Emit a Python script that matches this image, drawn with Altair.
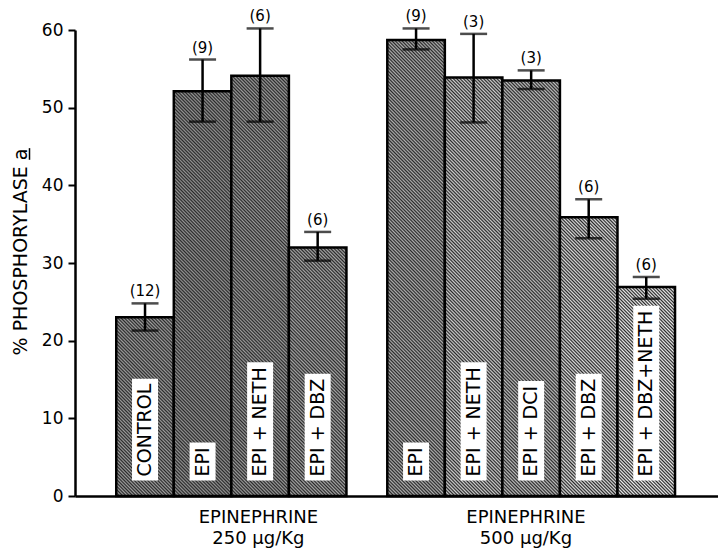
import altair as alt
import pandas as pd

# ---------------- data ----------------
group_titles = ["EPINEPHRINE\n250 µg/Kg", "EPINEPHRINE\n500 µg/Kg"]
bar_group = [0, 0, 0, 0, 1, 1, 1, 1, 1]
bar_index = [0, 1, 2, 3, 0, 1, 2, 3, 4]
treatments = ["CONTROL", "EPI", "EPI + NETH", "EPI + DBZ",
              "EPI", "EPI + NETH", "EPI + DCI", "EPI + DBZ", "EPI + DBZ+NETH"]
means = [23.0, 52.1, 54.1, 32.0, 58.7, 53.9, 53.5, 35.9, 26.9]
err_low = [21.3, 48.2, 48.2, 30.3, 57.5, 48.1, 52.4, 33.2, 25.4]
err_high = [24.8, 56.2, 60.2, 34.0, 60.2, 59.5, 54.8, 38.2, 28.2]
n_obs = [12, 9, 6, 6, 9, 3, 3, 6, 6]

y_ticks = [0, 10, 20, 30, 40, 50, 60]
y_title = "% PHOSPHORYLASE a"

# ---------------- layout / style ----------------
W, H = 643, 466
X_MAX = 11.0
group_start = [0.63, 5.34]       # left edge of each group, in bar-width units
label_center = [3.10, 7.75]      # centre of each group caption
shades = [99, 94, 98, 104, 108, 124, 116, 131, 140]   # mean grey level of each hatched bar
DARK = 40
HATCH_PERIOD = 3.4               # px, horizontal period of the diagonal hatching
FONT = "DejaVu Sans"
LBL_SIZE = 19
BOX_BASE = 2.0  # data units, bottom of the white label boxes
PX_PER_UNIT = H / 60.0
BAR_W = W / X_MAX

# DejaVu Sans advance widths (em)
cw = {"C": .698, "O": .787, "N": .748, "T": .611, "R": .695, "L": .557,
      "E": .632, "P": .603, "I": .295, " ": .318, "+": .838, "D": .770,
      "B": .686, "Z": .685, "H": .752, "%": .950, "S": .635, "Y": .611,
      "A": .684, "a": .613}


def text_px(s, size):
    return sum(cw.get(c, .6) for c in s) * size


def grey(v):
    v = max(0, min(255, int(round(v))))
    return "#{0:02x}{0:02x}{0:02x}".format(v)


def hatch(mean_val, shade):
    """Diagonal '\\' hatching as a bounding-box linear gradient."""
    w = BAR_W
    h = mean_val * PX_PER_UNIT
    s = h * (w + h) / (w * w + h * h)
    n = max(1, int(round((w + h) / HATCH_PERIOD)))
    light = grey(2 * shade - DARK)
    dark = grey(DARK)
    stops = []
    for k in range(2 * n + 1):
        stops.append(alt.GradientStop(color=dark if k % 2 == 0 else light,
                                      offset=k / (2 * n)))
    return alt.LinearGradient(gradient="linear", stops=stops,
                              x1=0, y1=1, x2=s * w / h, y2=1 - s)


ids = [f"b{i}" for i in range(len(means))]
df = pd.DataFrame({
    "id": ids,
    "treatment": treatments,
    "mean": means,
    "lo": err_low,
    "hi": err_high,
    "n": [f"({n})" for n in n_obs],
})
df["x0"] = [group_start[g] + i for g, i in zip(bar_group, bar_index)]
df["x1"] = df["x0"] + 1
df["xc"] = df["x0"] + 0.5
df["base"] = 0.0
df["ty"] = BOX_BASE + 4 / PX_PER_UNIT
df["by0"] = BOX_BASE
df["by1"] = [BOX_BASE + (text_px(t, LBL_SIZE) + 9) / PX_PER_UNIT for t in treatments]

gdf = pd.DataFrame({"title": group_titles, "xc": label_center})

xs = alt.Scale(domain=[0, X_MAX], nice=False, zero=False)
ys = alt.Scale(domain=[0, 60], nice=False)

base = alt.Chart(df)

x_axis = alt.Axis(labels=False, ticks=False, title=None, grid=False,
                  domainColor="black", domainWidth=2.5)
y_axis = alt.Axis(values=y_ticks, tickSize=7, tickWidth=2, tickColor="black",
                  domainColor="black", domainWidth=2.5, grid=False, title=None,
                  labelFont=FONT, labelFontSize=17, labelColor="black",
                  labelPadding=5)

bar_layers = []
for i, bid in enumerate(ids):
    bar_layers.append(
        base.transform_filter(alt.datum.id == bid).mark_rect(
            fill=hatch(means[i], shades[i]), stroke="black", strokeWidth=2.5
        ).encode(
            x=alt.X("x0:Q", scale=xs, axis=x_axis),
            x2="x1:Q",
            y=alt.Y("mean:Q", scale=ys, axis=y_axis),
            y2="base:Q",
        )
    )

boxes = base.mark_bar(color="white", size=26).encode(
    x=alt.X("xc:Q", scale=xs), y=alt.Y("by0:Q", scale=ys), y2="by1:Q"
)

labels = base.mark_text(angle=270, align="left", baseline="middle",
                        font=FONT, fontSize=LBL_SIZE, color="black").encode(
    x=alt.X("xc:Q", scale=xs), y=alt.Y("ty:Q", scale=ys), text="treatment:N"
)

err = base.mark_rule(color="black", strokeWidth=2.5).encode(
    x=alt.X("xc:Q", scale=xs), y=alt.Y("lo:Q", scale=ys), y2="hi:Q"
)
cap_lo = base.mark_tick(orient="horizontal", size=27, thickness=2.5, color="black").encode(
    x=alt.X("xc:Q", scale=xs), y=alt.Y("lo:Q", scale=ys)
)
cap_hi = base.mark_tick(orient="horizontal", size=27, thickness=2.5, color="black").encode(
    x=alt.X("xc:Q", scale=xs), y=alt.Y("hi:Q", scale=ys)
)
nlab = base.mark_text(baseline="bottom", dy=-4, font=FONT, fontSize=15, color="black").encode(
    x=alt.X("xc:Q", scale=xs), y=alt.Y("hi:Q", scale=ys), text="n:N"
)

glab = alt.Chart(gdf).mark_text(baseline="top", align="center", lineBreak="\n",
                                lineHeight=21, font=FONT, fontSize=18, color="black").encode(
    x=alt.X("xc:Q", scale=xs), y=alt.value(H + 13), text="title:N"
)

# y-axis title with underlined "a"
TITLE_SIZE = 19
title_center = 222
title_len = text_px(y_title, TITLE_SIZE)
a_top = title_center - title_len / 2
a_bot = a_top + cw["a"] * TITLE_SIZE
one = pd.DataFrame({"k": [0]})
ytitle = alt.Chart(one).mark_text(angle=270, align="center", baseline="middle",
                                  font=FONT, fontSize=TITLE_SIZE, color="black").encode(
    x=alt.value(-54), y=alt.value(title_center), text=alt.value(y_title)
)
uline = alt.Chart(one).mark_rule(color="black", strokeWidth=1.5).encode(
    x=alt.value(-45.5), y=alt.value(a_top), y2=alt.value(a_bot)
)

chart = alt.layer(*bar_layers, err, cap_lo, boxes, labels, cap_hi, nlab, glab, ytitle, uline).properties(
    width=W, height=H,
    autosize=alt.AutoSizeParams(type="none"),
    padding={"left": 67, "top": 22, "right": 0, "bottom": 52},
).configure_view(stroke=None)

chart.save("out.html", embed_options={"renderer": "svg", "actions": False})
